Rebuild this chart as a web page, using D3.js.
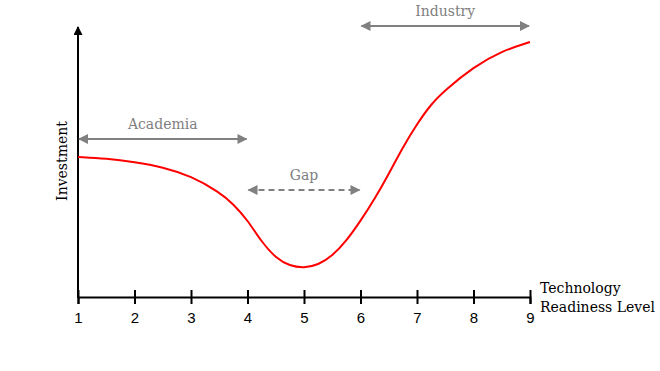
<!DOCTYPE html>
<html>
<head>
<meta charset="utf-8">
<script src="https://cdn.jsdelivr.net/npm/d3@7"></script>
<style>
  body { margin: 0; background: #fff; }
  svg { display: block; }
</style>
</head>
<body>
<div class="chart"></div>
<script>
// technology readiness level (x) vs relative investment (y)
var trl = [1, 1.5, 2, 2.5, 3, 3.5, 3.75, 4, 4.25, 4.5, 4.75, 5, 5.25, 5.5, 5.75, 6, 6.25, 6.5, 6.75, 7, 7.25, 7.5, 8, 8.5, 9];
var investment = [140, 138.5, 135, 130, 121, 105, 93, 77, 55, 39, 31, 29, 32, 41, 56, 76, 98, 123, 150, 173, 193, 207, 230, 246, 255];
var tickLabels = [1, 2, 3, 4, 5, 6, 7, 8, 9];

// phase spans along the TRL axis
var phases = ["Academia", "Gap", "Industry"];
var phaseStart = [1, 4, 6];
var phaseEnd = [4, 6, 9];
var phaseLevel = [158, 107, 271];

var width = 660, height = 371;
var serif = "'DejaVu Serif', Georgia, serif";
var grey = "#808080";

var x = d3.scaleLinear().domain([1, 9]).range([78, 530]);
var y = d3.scaleLinear().domain([0, 270]).range([297, 27]);

var svg = d3.select(".chart")
  .append("svg")
  .attr("width", width)
  .attr("height", height);

var defs = svg.append("defs");
function marker(id, color, w, h) {
  defs.append("marker")
    .attr("id", id)
    .attr("viewBox", "0 0 10 10")
    .attr("refX", 9)
    .attr("refY", 5)
    .attr("markerUnits", "userSpaceOnUse")
    .attr("markerWidth", w)
    .attr("markerHeight", h)
    .attr("orient", "auto-start-reverse")
    .append("path")
    .attr("d", "M0,0L10,5L0,10Z")
    .attr("fill", color);
}
marker("arrGrey", grey, 11, 10);
marker("arrBlack", "#000", 10, 9);

// x axis
var xAxis = svg.append("g")
  .attr("transform", "translate(0," + y(0) + ")")
  .call(d3.axisBottom(x).tickValues(tickLabels).tickFormat(d3.format("d")).tickSizeOuter(0).tickSize(7));

xAxis.select(".domain").attr("stroke", "#000").attr("stroke-width", 2);
xAxis.selectAll(".tick line")
  .attr("y1", -7)
  .attr("y2", 7)
  .attr("stroke", "#000")
  .attr("stroke-width", 2);
xAxis.selectAll(".tick text")
  .attr("y", 15)
  .attr("dy", "0.71em")
  .attr("fill", "#000")
  .style("font-family", "'Liberation Sans', Arial, sans-serif")
  .style("font-size", "15px");

// y axis with arrow
svg.append("line")
  .attr("x1", x(1))
  .attr("x2", x(1))
  .attr("y1", y(0) + 1)
  .attr("y2", y(270))
  .attr("stroke", "#000")
  .attr("stroke-width", 2)
  .attr("marker-end", "url(#arrBlack)");

svg.append("text")
  .attr("transform", "translate(67," + 161 + ") rotate(-90)")
  .attr("text-anchor", "middle")
  .style("font-family", serif)
  .style("font-size", "14px")
  .attr("fill", "#000")
  .text("Investment");

svg.append("text")
  .attr("x", 540)
  .attr("y", 293)
  .style("font-family", serif)
  .style("font-size", "14px")
  .attr("fill", "#000")
  .text("Technology");
svg.append("text")
  .attr("x", 540)
  .attr("y", 312)
  .style("font-family", serif)
  .style("font-size", "14px")
  .attr("fill", "#000")
  .text("Readiness Level");

// investment curve (basis spline smooths the read-off points)
var line = d3.line()
  .x(function (d, i) { return x(trl[i]); })
  .y(function (d) { return y(d); })
  .curve(d3.curveBasis);

svg.append("path")
  .datum(investment)
  .attr("d", line)
  .attr("fill", "none")
  .attr("stroke", "#ff0000")
  .attr("stroke-width", 2);

// phase arrows
phases.forEach(function (p, i) {
  var yy = y(phaseLevel[i]);
  svg.append("line")
    .attr("x1", x(phaseStart[i]) + 1)
    .attr("x2", x(phaseEnd[i]) - 1)
    .attr("y1", yy)
    .attr("y2", yy)
    .attr("stroke", grey)
    .attr("stroke-width", 2)
    .attr("stroke-dasharray", p == "Gap" ? "6,4" : null)
    .attr("marker-start", "url(#arrGrey)")
    .attr("marker-end", "url(#arrGrey)");

  svg.append("text")
    .attr("x", (x(phaseStart[i]) + x(phaseEnd[i])) / 2)
    .attr("y", yy - 10)
    .attr("text-anchor", "middle")
    .style("font-family", serif)
    .style("font-size", "14px")
    .attr("fill", grey)
    .text(p);
});
</script>
</body>
</html>
